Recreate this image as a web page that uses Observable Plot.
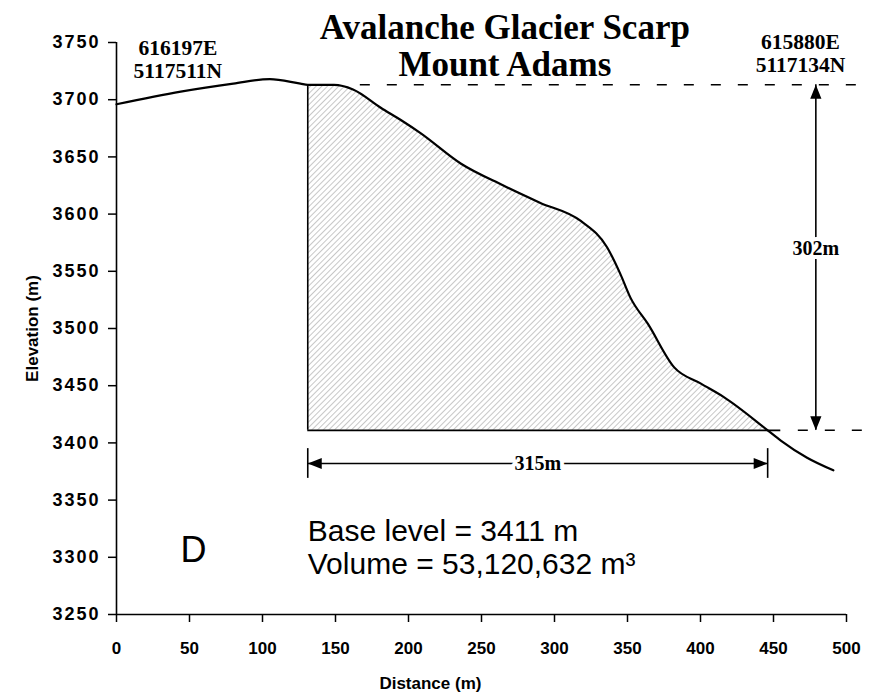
<!DOCTYPE html>
<html>
<head>
<meta charset="utf-8">
<script src="https://cdn.jsdelivr.net/npm/d3@7"></script>
<script src="https://cdn.jsdelivr.net/npm/@observablehq/plot@0.6"></script>
<style>
  html, body { margin: 0; padding: 0; background: #fff; }
</style>
</head>
<body>
<div id="chart"></div>
<script>
// Topographic profile across the scarp (distance along section, m / elevation, m)
const distance  = [0, 44, 80, 105, 126, 131, 149, 162, 181, 195, 208, 236, 265, 290, 318, 336, 345, 352, 364, 382, 400, 416, 446, 455, 473, 491];
const elevation = [3696, 3707, 3714, 3718, 3714, 3713, 3713, 3709, 3693, 3682, 3671, 3644, 3625, 3610, 3594, 3571, 3548, 3527, 3504, 3466, 3452, 3440, 3411, 3402, 3387, 3376];

// Scarp geometry
const scarpStart = 131;   // m along profile
const scarpEnd = 446;     // m along profile
const scarpTop = 3713;    // m
const baseLevel = 3411;   // m
const volume = 53120632;  // m³

// Text
const titleLines = ["Avalanche Glacier Scarp", "Mount Adams"];
const startCoord = ["616197E", "5117511N"];
const endCoord = ["615880E", "5117134N"];
const panelLetter = "D";

// Axis ticks
const xTicks = [0, 50, 100, 150, 200, 250, 300, 350, 400, 450, 500];
const yTicks = [3250, 3300, 3350, 3400, 3450, 3500, 3550, 3600, 3650, 3700, 3750];

const profile = distance.map((d, i) => ({distance: d, elevation: elevation[i]}));
const scarpProfile = profile.filter(p => p.distance >= scarpStart && p.distance <= scarpEnd);

const serif = "'Liberation Serif', 'Times New Roman', serif";
const sans = "'Liberation Sans', Arial, sans-serif";

// Filled arrowhead with its tip at the origin, pointing up
const arrowHead = {
  draw(context, size) {
    const l = Math.sqrt(size / Math.PI);
    context.moveTo(0, 0);
    context.lineTo(-0.4 * l, l);
    context.lineTo(0.4 * l, l);
    context.closePath();
  }
};

const heightArrowX = 479;
const widthArrowY = 3382;
const arrowHeads = [
  {x: heightArrowX, y: scarpTop, angle: 0},
  {x: heightArrowX, y: baseLevel, angle: 180},
  {x: scarpStart, y: widthArrowY, angle: 270},
  {x: scarpEnd, y: widthArrowY, angle: 90}
];

const dimensionLabel = {
  text: d => d, fontFamily: serif, fontWeight: "bold", fontSize: 20, lineAnchor: "middle",
  fill: "black", stroke: "white", strokeWidth: 8, paintOrder: "stroke"
};

const svg = Plot.plot({
  width: 869,
  height: 693,
  marginLeft: 116,
  marginRight: 23,
  marginTop: 42,
  marginBottom: 79,
  style: {fontFamily: sans, background: "white", color: "black", overflow: "visible"},
  x: {domain: [0, 500]},
  y: {domain: [3250, 3750]},
  marks: [
    // hatched scarp volume
    Plot.areaY(scarpProfile, {x: "distance", y1: baseLevel, y2: "elevation", curve: "monotone-x", fill: "url(#hatch)"}),
    Plot.ruleX([scarpStart], {y1: baseLevel, y2: scarpTop, stroke: "black", strokeWidth: 1.6}),
    Plot.ruleY([baseLevel], {x1: scarpStart, x2: 455, stroke: "black", strokeWidth: 1.8}),

    // dashed reference levels
    Plot.ruleY([scarpTop], {x1: 167, x2: 515, stroke: "black", strokeWidth: 1.5, strokeDasharray: "10,17"}),
    Plot.ruleY([baseLevel], {x1: 467, x2: 515, stroke: "black", strokeWidth: 1.5, strokeDasharray: "10,17"}),

    // frame
    Plot.ruleX([0], {y1: 3250, y2: 3750, stroke: "black", strokeWidth: 1.6}),
    Plot.ruleY([3250], {x1: 0, x2: 500, stroke: "black", strokeWidth: 1.6}),
    Plot.axisX({ticks: xTicks, tickFormat: "d", tickSize: 8, tickPadding: 19, strokeWidth: 1.5,
      fontSize: 17, fontWeight: "bold", label: null}),
    Plot.axisY({ticks: yTicks, tickFormat: "d", tickSize: 8, tickPadding: 8, strokeWidth: 1.5,
      fontSize: 18, fontWeight: "bold", label: null}),
    Plot.text(["Distance (m)"], {x: 215, y: 3190, text: d => d, fontSize: 17, fontWeight: "bold", lineAnchor: "middle"}),
    Plot.text(["Elevation (m)"], {frameAnchor: "left", dx: -84, text: d => d, rotate: -90,
      fontSize: 17, fontWeight: "bold", lineAnchor: "middle", textAnchor: "middle"}),

    // profile
    Plot.line(profile, {x: "distance", y: "elevation", curve: "monotone-x", stroke: "black", strokeWidth: 2.2}),

    // dimension arrows
    Plot.ruleX([heightArrowX], {y1: baseLevel, y2: scarpTop, stroke: "black", strokeWidth: 1.6}),
    Plot.ruleY([widthArrowY], {x1: scarpStart, x2: scarpEnd, stroke: "black", strokeWidth: 1.6}),
    Plot.ruleX([scarpStart, scarpEnd], {y1: 3369, y2: 3395, stroke: "black", strokeWidth: 1.6}),
    Plot.dot(arrowHeads, {x: "x", y: "y", rotate: "angle", symbol: arrowHead, r: 14, fill: "black", stroke: "none"}),
    Plot.text([`${scarpTop - baseLevel}m`], {x: heightArrowX, y: (scarpTop + baseLevel) / 2 + 8, ...dimensionLabel}),
    Plot.text([`${scarpEnd - scarpStart}m`], {x: (scarpStart + scarpEnd) / 2, y: widthArrowY, ...dimensionLabel}),

    // titles and coordinates
    Plot.text([titleLines.join("\n")], {x: 266, y: 3721, text: d => d, fontFamily: serif, fontWeight: "bold",
      fontSize: 35, lineHeight: 1.06, lineAnchor: "bottom"}),
    Plot.text([startCoord.join("\n")], {x: 42, y: 3719.4, text: d => d, fontFamily: serif, fontWeight: "bold",
      fontSize: 21.5, lineHeight: 1.07, lineAnchor: "bottom"}),
    Plot.text([endCoord.join("\n")], {x: 468.5, y: 3723.8, text: d => d, fontFamily: serif, fontWeight: "bold",
      fontSize: 21.5, lineHeight: 1.07, lineAnchor: "bottom"}),

    // panel letter and scarp statistics
    Plot.text([panelLetter], {x: 52.7, y: 3295.5, text: d => d, fontSize: 36, lineAnchor: "bottom"}),
    Plot.text([`Base level = ${baseLevel} m\nVolume = ${d3.format(",")(volume)} m³`], {
      x: scarpStart, y: 3285, text: d => d, fontSize: 30, lineHeight: 1.1, lineAnchor: "bottom", textAnchor: "start"})
  ]
});

// wider spacing for the elevation tick labels
d3.select(svg).selectAll("g[aria-label='y-axis tick label'] text").style("letter-spacing", "2px");

// diagonal hatching used for the scarp fill
const defs = d3.select(svg).insert("defs", ":first-child");
const pattern = defs.append("pattern")
  .attr("id", "hatch")
  .attr("patternUnits", "userSpaceOnUse")
  .attr("width", 4)
  .attr("height", 4)
  .attr("patternTransform", "rotate(45)");
pattern.append("rect").attr("width", 4).attr("height", 4).attr("fill", "white");
pattern.append("line").attr("x1", 0).attr("y1", 0).attr("x2", 0).attr("y2", 4)
  .attr("stroke", "#999").attr("stroke-width", 1.1);

document.getElementById("chart").appendChild(svg);
</script>
</body>
</html>
